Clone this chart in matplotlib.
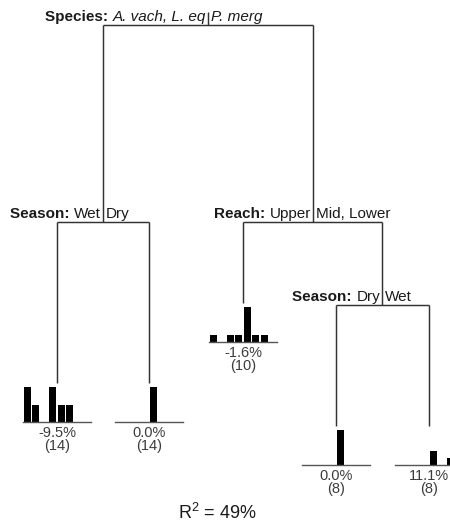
import matplotlib
matplotlib.use("Agg")
import matplotlib.pyplot as plt

plt.rcParams['font.family'] = ['Liberation Sans', 'DejaVu Sans']
plt.rcParams['mathtext.default'] = 'regular'

W, H = 450, 528

# Split rules: variable, left-branch levels, right-branch levels
split_vars = ["Species", "Season", "Reach", "Season"]
split_left = ["A. vach, L. eq", "Wet", "Upper", "Dry"]
split_right = ["P. merg", "Dry", "Mid, Lower", "Wet"]
split_italic = [True, False, False, False]

# Leaf summaries: response histogram (8 bins), mean change, group size
leaf_counts = [
    [4, 2, 0, 4, 2, 2, 0, 0],
    [0, 0, 0, 0, 14, 0, 0, 0],
    [1, 0, 1, 1, 5, 1, 1, 0],
    [0, 0, 0, 0, 8, 0, 0, 0],
    [0, 0, 0, 0, 2, 0, 1, 5],
]
leaf_means = ["-9.5%", "0.0%", "-1.6%", "0.0%", "11.1%"]
leaf_n = [14, 14, 10, 8, 8]
r_squared = 49

# Tree layout (pixel units): split nodes and leaves
split_pos = [(208, 25), (103, 222), (313, 222), (382, 305)]
split_children = [(("s", 1), ("s", 2)), (("l", 0), ("l", 1)),
                  (("l", 2), ("s", 3)), (("l", 3), ("l", 4))]
leaf_pos = [(57, 422), (149, 422), (243, 342), (336, 465), (429, 465)]
hist_w, hist_h = 68, 35

LINE = "#333333"
TXT = "#1a1a1a"
LEAF_TXT = "#3c3c3c"
lw = 1.05

fig = plt.figure(figsize=(W / 100, H / 100), dpi=100)
ax = fig.add_axes([0, 0, 1, 1])
ax.set_xlim(0, W)
ax.set_ylim(H, 0)
ax.axis("off")
renderer = fig.canvas.get_renderer()


def text_width(s, **kw):
    t = ax.text(0, 0, s, **kw)
    w = t.get_window_extent(renderer).width
    t.remove()
    return w


split_fs = 11
# Tree branches
for i, (x, y) in enumerate(split_pos):
    kids = split_children[i]
    xs = []
    for kind, k in kids:
        if kind == "s":
            kx, ky = split_pos[k]
            yend = ky
        else:
            kx, kb = leaf_pos[k]
            yend = kb - hist_h - 4
        xs.append(kx)
        ax.plot([kx, kx], [y, yend], color=LINE, lw=lw, solid_capstyle="butt")
    ax.plot([xs[0], xs[1]], [y, y], color=LINE, lw=lw, solid_capstyle="butt")
    if i == 0:
        ax.plot([x, x], [y - 13, y], color=LINE, lw=lw, solid_capstyle="butt")

    # Split label: bold variable, left levels | right levels
    base = y - 4
    style = "italic" if split_italic[i] else "normal"
    ax.text(x + 3, base, split_right[i], fontsize=split_fs, fontstyle=style,
            color=TXT, ha="left", va="baseline")
    wl = text_width(split_left[i], fontsize=split_fs, fontstyle=style)
    ax.text(x - 2, base, split_left[i], fontsize=split_fs, fontstyle=style,
            color=TXT, ha="right", va="baseline")
    lab = split_vars[i] + ": "
    ax.text(x - 2 - wl, base, lab, fontsize=split_fs, fontweight="bold",
            color=TXT, ha="right", va="baseline")

# Leaf histograms and summaries
for j, (x, yb) in enumerate(leaf_pos):
    counts = leaf_counts[j]
    hax = fig.add_axes([(x - hist_w / 2) / W, 1 - yb / H, hist_w / W, hist_h / H])
    hax.bar([b + 0.5 for b in range(len(counts))], counts, width=0.78,
            color="black", edgecolor="none")
    hax.set_xlim(0, len(counts))
    hax.set_ylim(0, max(counts))
    hax.axhline(0, color="#555555", lw=1.0, clip_on=False)
    hax.axis("off")
    ax.text(x, yb + 11, leaf_means[j], fontsize=10.5, color=LEAF_TXT,
            ha="center", va="center")
    ax.text(x, yb + 24, f"({leaf_n[j]})", fontsize=10.5, color=LEAF_TXT,
            ha="center", va="center")

ax.text(217, 513, f"R$^2$ = {r_squared}%", fontsize=13, color=TXT,
        ha="center", va="center")

fig.savefig("out.png", dpi=100)
